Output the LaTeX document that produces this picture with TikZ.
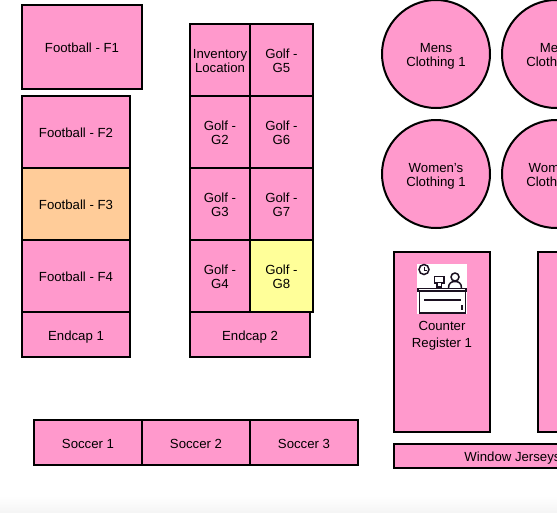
\documentclass[tikz,border=0pt]{standalone}
\usepackage{fontspec}
\setmainfont{Liberation Sans}
\usetikzlibrary{positioning}
\definecolor{shelf}{HTML}{FF99CC}
\definecolor{warm}{HTML}{FFCC99}
\definecolor{lemon}{HTML}{FFFF99}
\definecolor{inkline}{HTML}{1A1020}

\begin{document}
\begin{tikzpicture}[
  x=1pt, y=-1pt,
  zone/.style={draw=black, line width=2pt, fill=shelf, outer sep=0pt, inner sep=1pt,
               align=center, text=black, text height=11pt, font=\fontsize{13.2}{14}\selectfont},
  tall/.style={zone, minimum width=108pt, minimum height=72pt},
  golfl/.style={zone, text height=25.2pt, text depth=0pt, minimum width=60pt, minimum height=72pt},
  golfr/.style={zone, text height=25.2pt, text depth=0pt, minimum width=63pt, minimum height=72pt},
  endcap/.style={zone, text height=14pt, minimum height=45pt},
  soccer/.style={zone, text height=13pt, minimum width=108pt, minimum height=45pt},
  round/.style={zone, circle, text height=24.4pt, text depth=0pt, minimum size=108pt},
  icon/.style={draw=inkline, line width=1.5pt, fill=white}
]
  \useasboundingbox (0,0) rectangle (557,512);
  \clip (0,0) rectangle (557,512);
  \shade[top color=white, bottom color=black!4] (0,496) rectangle (557,512);

  % Football
  \node[zone, minimum width=120pt, minimum height=84pt] (f1) at (82, 47) {Football - F1};
  \node[tall] (f2) at (76, 132) {Football - F2};
  \node[tall, fill=warm] (f3) at (76, 204) {Football - F3};
  \node[tall] (f4) at (76, 276) {Football - F4};
  \node[endcap, minimum width=108pt] (end1) at (76, 334.5) {Endcap 1};

  % Golf
  \node[golfl] (inv) at (220, 60) {Inventory\\Location};
  \node[golfl] (g2) at (220, 132) {Golf -\\G2};
  \node[golfl] (g3) at (220, 204) {Golf -\\G3};
  \node[golfl] (g4) at (220, 276) {Golf -\\G4};
  \node[golfr] (g5) at (281.5, 60) {Golf -\\G5};
  \node[golfr] (g6) at (281.5, 132) {Golf -\\G6};
  \node[golfr] (g7) at (281.5, 204) {Golf -\\G7};
  \node[golfr, fill=lemon] (g8) at (281.5, 276) {Golf -\\G8};
  \node[endcap, minimum width=120pt] (end2) at (250, 334.5) {Endcap 2};

  % Soccer
  \node[soccer] (s1) at (88, 442.5) {Soccer 1};
  \node[soccer] (s2) at (196, 442.5) {Soccer 2};
  \node[soccer] (s3) at (304, 442.5) {Soccer 3};

  % Clothing
  \node[round] (men1) at (436, 54) {Mens\\Clothing 1};
  \node[round] (men2) at (556, 54) {Mens\\Clothing 2};
  \node[round] (wom1) at (436, 174) {Women's\\Clothing 1};
  \node[round] (wom2) at (556, 174) {Women's\\Clothing 2};

  % Counters
  \node[zone, minimum width=96pt, minimum height=180pt] (reg1) at (442, 342) {};
  \node[zone, minimum width=96pt, minimum height=180pt] (reg2) at (586, 342) {};
  \node[zone, text height=13pt, minimum width=237pt, minimum height=24pt] (window) at (512.5, 456) {Window Jerseys};
  \node[font=\fontsize{13.2}{17}\selectfont, align=center, inner sep=0pt] (reg1txt) at (442, 335.5) {Counter\\Register 1};

  % Register icon
  \fill[white] (417,264) rectangle (467,314);
  \draw[icon] (424,269.5) circle (5);
  \draw[inkline, line width=1pt] (424,266.5) -- (424,270) -- (427,270);
  \draw[icon] (434.5,276.5) rectangle (444,283);
  \draw[icon] (437,283) -- (437,287) -- (441.5,287) -- (441.5,283);
  \draw[icon] (448.5,288) .. controls (448.5,283) and (451.5,281.5) .. (455,281.5)
    .. controls (458.5,281.5) and (461.5,283) .. (461.5,288);
  \draw[icon] (455,277) circle (4);
  \draw[icon, line width=1.8pt] (418,288.5) rectangle (466,291);
  \draw[icon] (419.5,291) rectangle (465.5,313);
  \draw[inkline, line width=1.5pt] (424,300) -- (461,300);
  \draw[inkline, line width=1.5pt] (462,305) -- (462,310);
\end{tikzpicture}
\end{document}
